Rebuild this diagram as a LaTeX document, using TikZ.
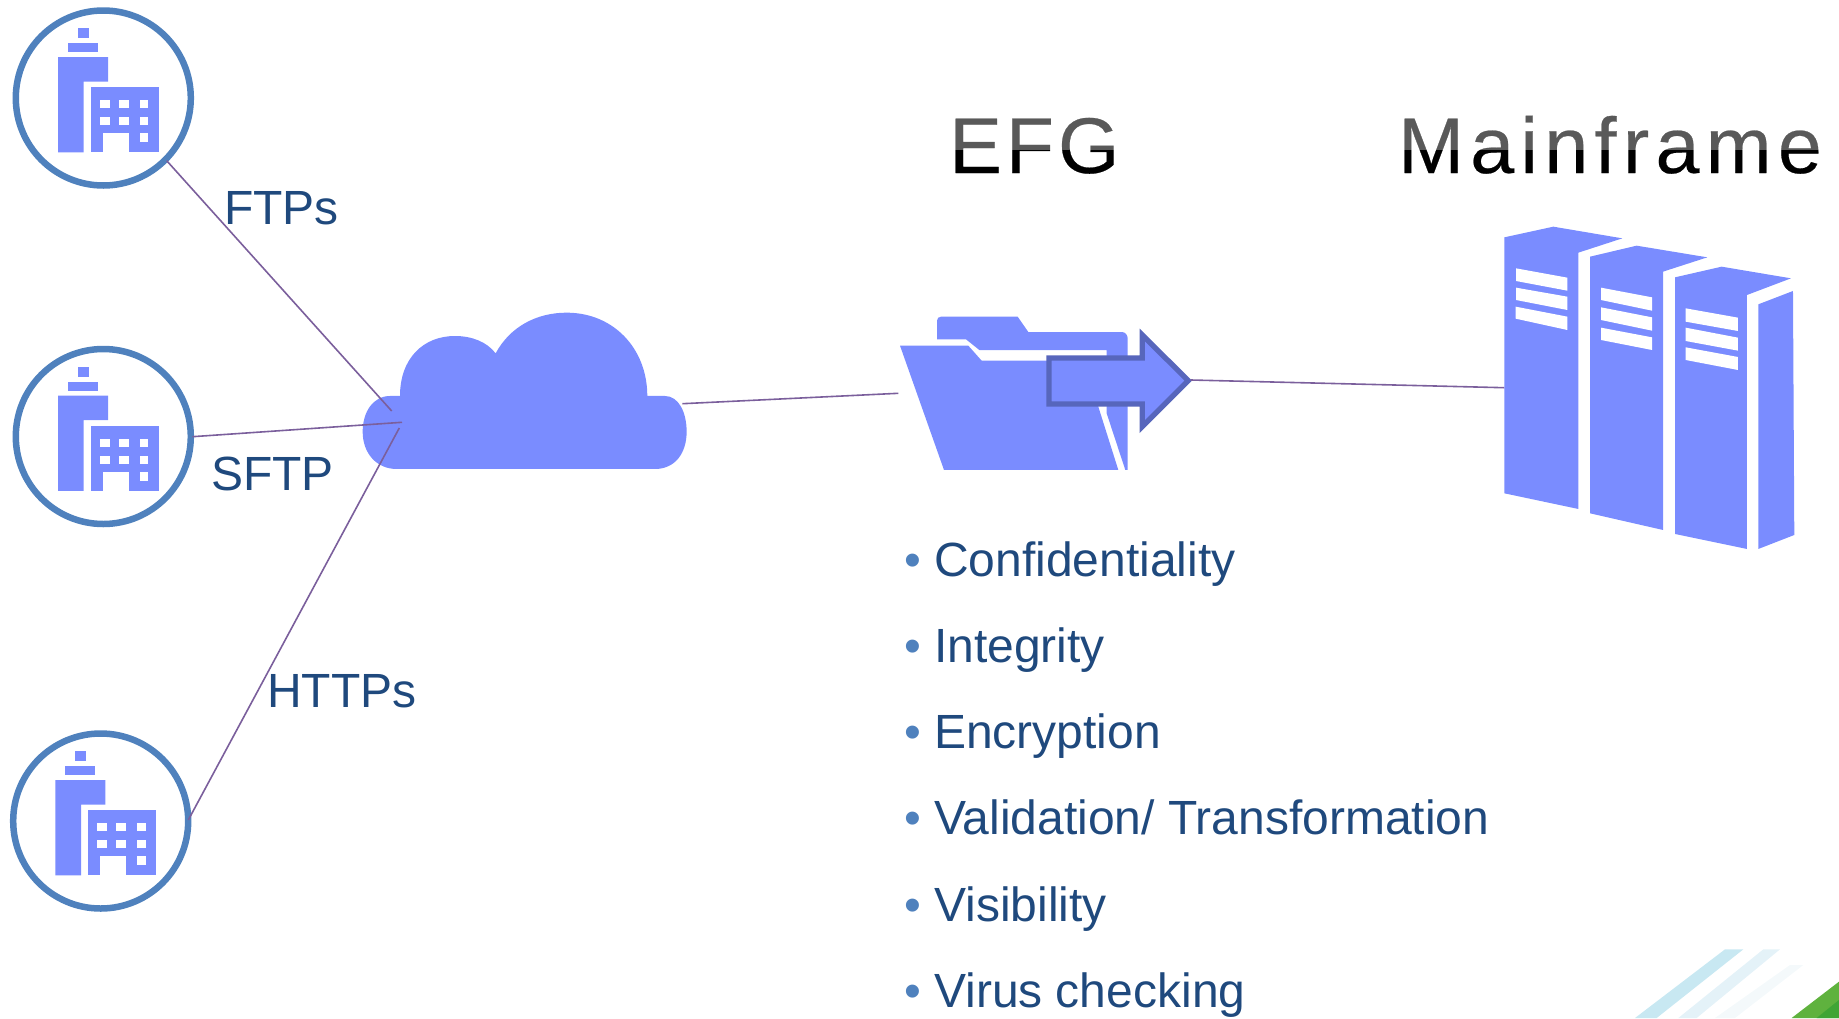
\documentclass[tikz,border=0pt]{standalone}
\usepackage{fontspec}
\setmainfont{Liberation Sans}
\newfontfamily\titlefont[LetterSpace=5,FakeBold=0.3]{Liberation Sans}
\newfontfamily\titlefontwide[LetterSpace=8,FakeBold=0.3]{Liberation Sans}
\definecolor{iconblue}{HTML}{7A8CFF}
\definecolor{ringblue}{HTML}{4F81BD}
\definecolor{linkpurple}{HTML}{7B5F9C}
\definecolor{labelblue}{HTML}{1F497D}
\definecolor{arrowedge}{HTML}{5766BC}
\definecolor{stripeA}{HTML}{C8E8F2}
\definecolor{stripeB}{HTML}{E4F2F8}
\definecolor{stripeC}{HTML}{F4F9FB}
\definecolor{greenA}{HTML}{5FB23E}
\definecolor{greenB}{HTML}{3FA535}
\newcommand{\bul}{\makebox[30pt][l]{\textcolor{ringblue}{•}}}
\tikzset{
  ring/.style={circle,draw=ringblue,line width=6.5pt,minimum size=175pt,inner sep=0pt},
  link/.style={draw=linkpurple,line width=1.6pt},
  icon/.style={fill=iconblue,draw=none},
  hole/.style={fill=white,draw=none},
  label/.style={text=labelblue,font=\fontsize{48pt}{50pt}\selectfont,anchor=base west,inner sep=0pt},
  listing/.style={text=labelblue,font=\fontsize{48pt}{50pt}\selectfont,anchor=base west,inner sep=0pt},
  titletext/.style={text=black,font=\titlefont\fontsize{79pt}{82pt}\selectfont,anchor=base west,inner sep=0pt},
  titlewide/.style={text=black,font=\titlefontwide\fontsize{79pt}{82pt}\selectfont,anchor=base west,inner sep=0pt},
  bldg/.pic={
    \fill[icon] (-45.3,-41) -- (4.7,-41) -- (4.7,-16.3) -- (-19.6,-16.3) -- (-19.6,54.3) -- (-45.3,54.3) -- cycle;
    \fill[icon] (-35.3,-55) rectangle (-5.3,-46);
    \fill[icon] (-25.3,-70) rectangle (-14.3,-60);
    \fill[icon] (-12.3,-11) rectangle (55.7,54.3);
    \fill[hole] (-0.3,35) rectangle (25.7,54.4);
    \fill[hole] (-3.3,2) rectangle (6.7,10);
    \fill[hole] (15.7,2) rectangle (25.7,10);
    \fill[hole] (36.7,2) rectangle (45,10);
    \fill[hole] (-3.3,19) rectangle (6.7,27);
    \fill[hole] (15.7,19) rectangle (25.7,27);
    \fill[hole] (36.7,19) rectangle (45,27);
    \fill[hole] (36.7,35) rectangle (45,44.3);
  }
}
\begin{document}
\begin{tikzpicture}[x=1pt,y=-1pt]
\useasboundingbox (0,0) rectangle (1839,1018);
% corner decoration
\begin{scope}[shift={(1600,920)},x=0.3333pt,y=-0.3333pt]
  \clip (0,0) rectangle (717,294);
  \fill[stripeC] (570,135) -- (610,135) -- (405,294) -- (345,294) -- cycle;
  \fill[stripeB] (490,88) -- (540,88) -- (290,294) -- (235,294) -- cycle;
  \fill[stripeA] (375,88) -- (430,88) -- (170,294) -- (105,294) -- cycle;
  \fill[greenA] (717,185) -- (717,294) -- (575,294) -- cycle;
  \fill[greenB] (717,240) -- (717,294) -- (650,294) -- cycle;
\end{scope}
% rings
\node[ring] (c1) at (103.3,98) {};
\node[ring] (c2) at (103.3,436.5) {};
\node[ring] (c3) at (100.7,821) {};
\pic at (c1.center) {bldg};
\pic at (c2.center) {bldg};
\pic at (c3.center) {bldg};
% cloud
\begin{scope}[shift={(340,290)},x=0.3333pt,y=-0.3333pt]
  \fill[icon] (170,537) .. controls (110,537) and (68,490) .. (68,425)
    .. controls (68,365) and (100,318) .. (150,318) -- (180,318)
    .. controls (180,205) and (250,138) .. (345,138)
    .. controls (395,138) and (440,155) .. (467,190)
    .. controls (510,110) and (590,68) .. (680,68)
    .. controls (820,68) and (922,175) .. (922,318) -- (975,318)
    .. controls (1015,318) and (1040,365) .. (1040,425)
    .. controls (1040,490) and (1005,537) .. (945,537) -- cycle;
\end{scope}
\coordinate (cloudA) at (391.7,411);
\coordinate (cloudB) at (402,422.3);
\coordinate (cloudC) at (399.3,428);
\coordinate (cloudR) at (682.3,403.7);
\coordinate (folderL) at (898.3,393.3);
\coordinate (serverL) at (1504.3,387.7);
\coordinate (c1a) at (166.7,160.7);
\coordinate (c2a) at (192.3,436.7);
\coordinate (c3a) at (188.3,820);
\draw[link] (c1a) -- (cloudA);
\draw[link] (c2a) -- (cloudB);
\draw[link] (c3a) -- (cloudC);
\draw[link] (cloudR) -- (folderL);
% folder
\begin{scope}[shift={(880,290)},x=0.3333pt,y=-0.3333pt]
  \fill[icon] (171,148) -- (171,92) .. controls (171,85) and (176,80) .. (183,80) -- (413,80) -- (445,126) -- (725,126)
     .. controls (736,126) and (743,135) .. (743,145) -- (743,540) -- (736,540) -- (680,370) -- (680,180) -- (298,180) -- (258,148) -- cycle;
  \fill[icon] (60,167) -- (265,167) -- (305,212) -- (640,212) -- (655,350) -- (715,540) -- (192,540) -- cycle;
  \fill[fill=iconblue,draw=arrowedge,line width=5.3pt] (507,204) -- (787,204) -- (787,135) -- (925,272) -- (787,410) -- (787,342) -- (507,342) -- cycle;
  \coordinate (arrowtip) at (932,270);
\end{scope}
\draw[link] (arrowtip) -- (serverL);
% servers
\begin{scope}[shift={(1480,210)},x=0.3333pt,y=-0.3333pt]
  \fill[icon] (73,82) -- (220,50) -- (427,85) -- (295,128) -- (295,897) -- (73,850) -- cycle;
  \fill[icon] (330,140) -- (470,107) -- (682,142) -- (549,185) -- (549,960) -- (330,910) -- cycle;
  \fill[icon] (585,202) -- (725,170) -- (933,205) -- (801,255) -- (801,1017) -- (585,972) -- cycle;
  \fill[icon] (835,283) -- (939,243) -- (943,975) -- (835,1017) -- cycle;
  \fill[hole] (108,175) -- (262,203) -- (262,242) -- (108,213) -- cycle;
  \fill[hole] (108,233) -- (262,260) -- (262,300) -- (108,270) -- cycle;
  \fill[hole] (107,290) -- (262,320) -- (262,360) -- (107,326) -- cycle;
  \fill[hole] (363,233) -- (516,262) -- (516,302) -- (363,270) -- cycle;
  \fill[hole] (363,292) -- (516,322) -- (516,362) -- (363,330) -- cycle;
  \fill[hole] (363,353) -- (516,382) -- (516,420) -- (363,390) -- cycle;
  \fill[hole] (617,295) -- (774,323) -- (774,363) -- (617,335) -- cycle;
  \fill[hole] (617,353) -- (774,383) -- (774,422) -- (617,393) -- cycle;
  \fill[hole] (617,412) -- (774,441) -- (774,480) -- (617,450) -- cycle;
\end{scope}
% labels
\node[label] (ftps) at (224,224) {FTPs};
\node[label] (sftp) at (211,490) {SFTP};
\node[label] (https) at (267,707) {HTTPs};
% titles
\node[titletext] (efg) at (949,173) {EFG};
\node[titlewide] (mainframe) at (1398,173) {Mainframe};
\fill[white,fill opacity=0.35] (930,105) rectangle (1130,150);
\fill[white,fill opacity=0.35] (1390,105) rectangle (1835,150);
% list
\node[listing] (l1) at (904,576) {\bul Confidentiality};
\node[listing] (l2) at (904,662) {\bul Integrity};
\node[listing] (l3) at (904,748) {\bul Encryption};
\node[listing] (l4) at (904,834) {\bul Validation/ Transformation};
\node[listing] (l5) at (904,921) {\bul Visibility};
\node[listing] (l6) at (904,1007) {\bul Virus checking};
\end{tikzpicture}
\end{document}
